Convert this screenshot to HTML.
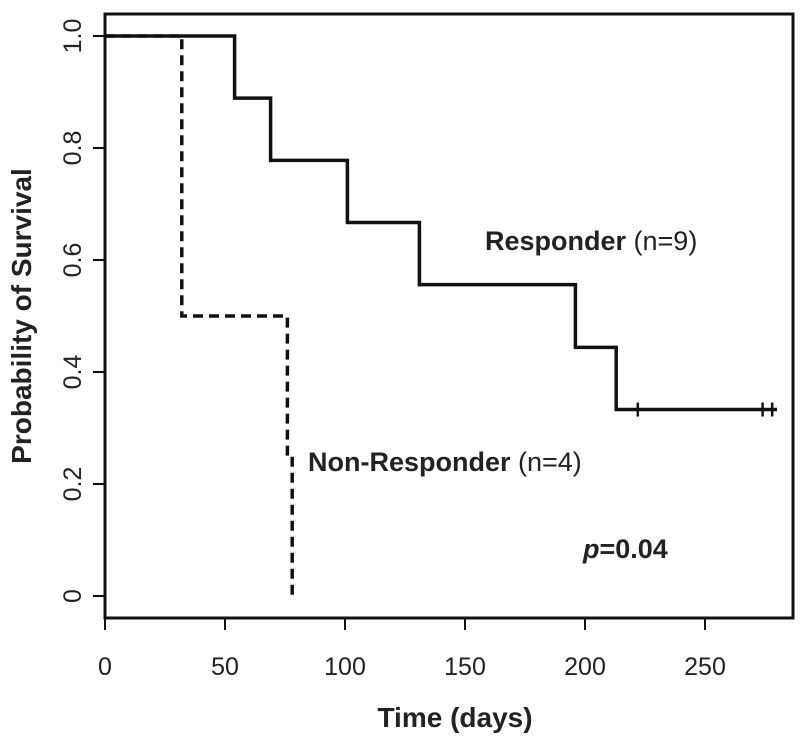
<!DOCTYPE html>
<html><head><meta charset="utf-8"><style>
body{margin:0;background:#fff}
svg{display:block;font-family:"Liberation Sans",Arial,sans-serif}
</style></head><body>
<svg id="chart" width="800" height="744" viewBox="0 0 800 744">
<rect x="105" y="14" width="688" height="604" fill="none" stroke="#111" stroke-width="3"/>
<g id="xaxis"></g>
<g id="yaxis"></g>
<g id="series"></g>
<text x="455" y="727" text-anchor="middle" font-size="28" font-weight="bold" fill="#222">Time (days)</text>
<text transform="translate(31,316) rotate(-90)" text-anchor="middle" font-size="28" font-weight="bold" fill="#222">Probability of Survival</text>
<text x="485" y="250" font-size="27" fill="#222"><tspan font-weight="bold">Responder</tspan> (n=9)</text>
<text x="308" y="471" font-size="27" fill="#222"><tspan font-weight="bold">Non-Responder</tspan> (n=4)</text>
<text x="583" y="558" font-size="27" font-weight="bold" fill="#222"><tspan font-style="italic">p</tspan>=0.04</text>
</svg>
<script>
const xTicks=[0,50,100,150,200,250];
const yTicks=[0,0.2,0.4,0.6,0.8,1.0];
const yTickLabels=["0","0.2","0.4","0.6","0.8","1.0"];
const respTimes=[0,54,69,101,131,196,213];
const respSurv=[1.0,0.889,0.778,0.667,0.556,0.444,0.333];
const respEnd=280;
const respCensor=[222,274,278];
const nonTimes=[0,32,76,78];
const nonSurv=[1.0,0.5,0.25,0];
const nonEnd=78;
const NS="http://www.w3.org/2000/svg";
const X=t=>105+t*2.4;
const Y=s=>596-s*560;
function mk(tag,attrs,parent){const e=document.createElementNS(NS,tag);for(const k in attrs)e.setAttribute(k,attrs[k]);parent.appendChild(e);return e;}
const xa=document.getElementById('xaxis'),ya=document.getElementById('yaxis'),sr=document.getElementById('series');
xTicks.forEach(t=>{
 const l=mk('line',{x1:X(t),x2:X(t),y1:618,y2:630,stroke:'#111','stroke-width':2},xa);
 
 
 const tx=mk('text',{x:X(t),y:675,'text-anchor':'middle','font-size':25,fill:'#222'},xa);
 tx.textContent=t;
 
 
});
yTicks.forEach((v,i)=>{
 const l=mk('line',{x1:93,x2:105,y1:Y(v),y2:Y(v),stroke:'#111','stroke-width':2},ya);
 
 
 const tx=mk('text',{transform:`translate(81,${Y(v)}) rotate(-90)`,'text-anchor':'middle','font-size':25,fill:'#222'},ya);
 tx.textContent=yTickLabels[i];
 
 
});
function stepPath(times,surv,end){
 let d=`M${X(times[0])},${Y(surv[0])}`;
 for(let i=1;i<times.length;i++){d+=` H${X(times[i])} V${Y(surv[i])}`;}
 d+=` H${X(end)}`;return d;
}
const rp=mk('path',{d:stepPath(respTimes,respSurv,respEnd),fill:'none',stroke:'#111','stroke-width':3.5},sr);


respCensor.forEach(t=>{
 const s=respSurv[respSurv.length-1];
 const c=mk('line',{x1:X(t),x2:X(t),y1:Y(s)-7,y2:Y(s)+7,stroke:'#111','stroke-width':2.5},sr);
 
 
});
const np=mk('path',{d:stepPath(nonTimes,nonSurv,nonEnd),fill:'none',stroke:'#111','stroke-width':3.5,'stroke-dasharray':'10,6'},sr);


</script>
</body></html>
